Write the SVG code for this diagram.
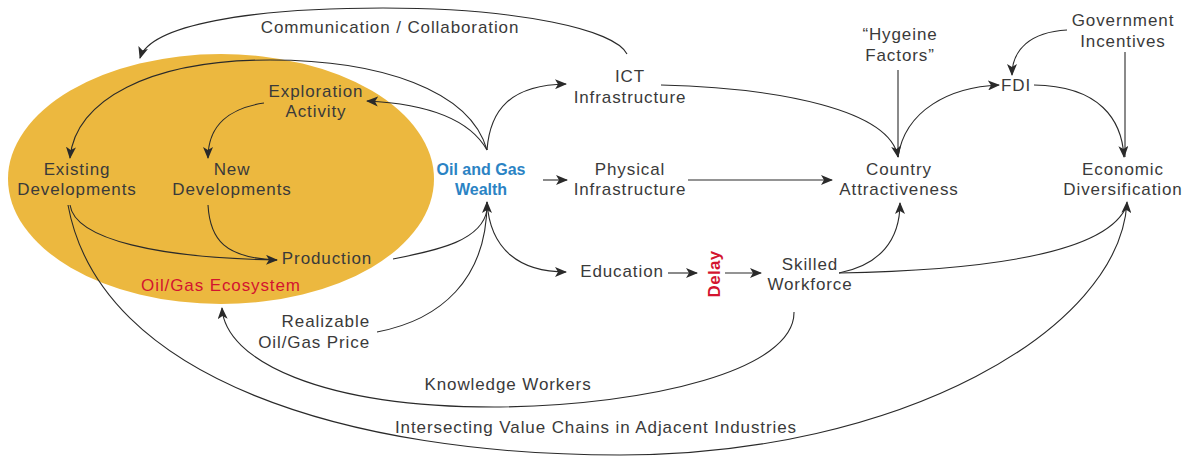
<svg xmlns="http://www.w3.org/2000/svg" width="1202" height="457" viewBox="0 0 1202 457">
<style>
text{font-family:"Liberation Sans","Arial",sans-serif;font-size:17px;letter-spacing:0.9px;fill:#3a3a3a;text-anchor:middle}
.blue{fill:#2b83c4;font-weight:bold;font-size:16px;letter-spacing:0}
.red{fill:#d3142f}
.bold{font-weight:bold;letter-spacing:0.3px}
.c{fill:none;stroke:#2a2a2a;stroke-width:1.1}
.a{marker-end:url(#ah)}
</style>
<defs>
<marker id="ah" viewBox="0 0 12 10" refX="11" refY="5" markerWidth="12" markerHeight="10" markerUnits="userSpaceOnUse" orient="auto">
<path d="M0,0 L12,5 L0,10 L3,5 z" fill="#2a2a2a"/>
</marker>
</defs>
<rect width="1202" height="457" fill="#fff"/>
<g id="ecosystem"><ellipse cx="221" cy="179" rx="213" ry="125" fill="#ecb83f"/><text class="red" x="221" y="291">Oil/Gas Ecosystem</text></g>
<g id="connectors">
<path class="c a" d="M627,54 C615,30 520,8 383,8 C250,8 150,25 140,58"/>
<path class="c a" d="M487,150 C470,90 380,60 270,60 C150,60 75,100 70,158"/>
<path class="c a" d="M487,150 C470,120 430,104 367,101"/>
<path class="c a" d="M487,150 C490,110 510,85 566,84"/>
<path class="c a" d="M543,180 L567,180"/>
<path class="c a" d="M487,202 C490,250 520,272 566,272"/>
<path class="c" d="M393,259 C440,250 482,240 487,210"/>
<path class="c a" d="M377,332 C440,320 487,280 487,202"/>
<path class="c a" d="M70,205 C75,240 160,258 277,260"/>
<path class="c" d="M208,205 C210,240 225,258 277,260"/>
<path class="c a" d="M264,103 C230,108 208,125 208,158"/>
<path class="c a" d="M68,205 C100,380 350,455 620,455 C900,455 1120,330 1127,202"/>
<path class="c a" d="M794,312 C795,370 650,405 500,407 C320,408 225,360 222,308"/>
<path class="c a" d="M839,273 C880,265 900,240 900,203"/>
<path class="c" d="M839,273 C1000,270 1110,250 1127,205"/>
<path class="c a" d="M688,180 L832,180"/>
<path class="c a" d="M661,85 C780,88 890,110 898,157"/>
<path class="c" d="M898,70 L898,157"/>
<path class="c a" d="M898,157 C905,110 950,87 999,85"/>
<path class="c a" d="M1034,85 C1100,86 1122,120 1124,157"/>
<path class="c a" d="M1067,30 C1030,32 1012,50 1012,75"/>
<path class="c" d="M1125,52 L1125,157"/>
<path class="c a" d="M668,273 L697,273"/>
<path class="c a" d="M725,273 L761,273"/>
</g>
<g id="communication"><text x="390" y="33">Communication / Collaboration</text></g>
<g id="exploration"><text x="316" y="97">Exploration</text><text x="316" y="117">Activity</text></g>
<g id="existing"><text x="77" y="175">Existing</text><text x="77" y="195">Developments</text></g>
<g id="new"><text x="232" y="175">New</text><text x="232" y="195">Developments</text></g>
<g id="production"><text x="327" y="264">Production</text></g>
<g id="wealth"><text class="blue" x="481" y="175">Oil and Gas</text><text class="blue" x="481" y="195">Wealth</text></g>
<g id="ict"><text x="630" y="82">ICT</text><text x="630" y="103">Infrastructure</text></g>
<g id="physical"><text x="630" y="175">Physical</text><text x="630" y="195">Infrastructure</text></g>
<g id="education"><text x="622" y="277">Education</text></g>
<g id="delay"><text class="red bold" transform="translate(720,274) rotate(-90)" x="0" y="0">Delay</text></g>
<g id="skilled"><text x="810" y="270">Skilled</text><text x="810" y="290">Workforce</text></g>
<g id="price"><text x="370" y="327" style="text-anchor:end">Realizable</text><text x="370" y="348" style="text-anchor:end">Oil/Gas Price</text></g>
<g id="knowledge"><text x="508" y="390">Knowledge Workers</text></g>
<g id="intersecting"><text x="596" y="433">Intersecting Value Chains in Adjacent Industries</text></g>
<g id="hygeine"><text x="900" y="40">“Hygeine</text><text x="900" y="61">Factors”</text></g>
<g id="government"><text x="1123" y="26">Government</text><text x="1123" y="47">Incentives</text></g>
<g id="fdi"><text x="1016" y="91">FDI</text></g>
<g id="country"><text x="899" y="175">Country</text><text x="899" y="195">Attractiveness</text></g>
<g id="economic"><text x="1123" y="175">Economic</text><text x="1123" y="195">Diversification</text></g>
</svg>
